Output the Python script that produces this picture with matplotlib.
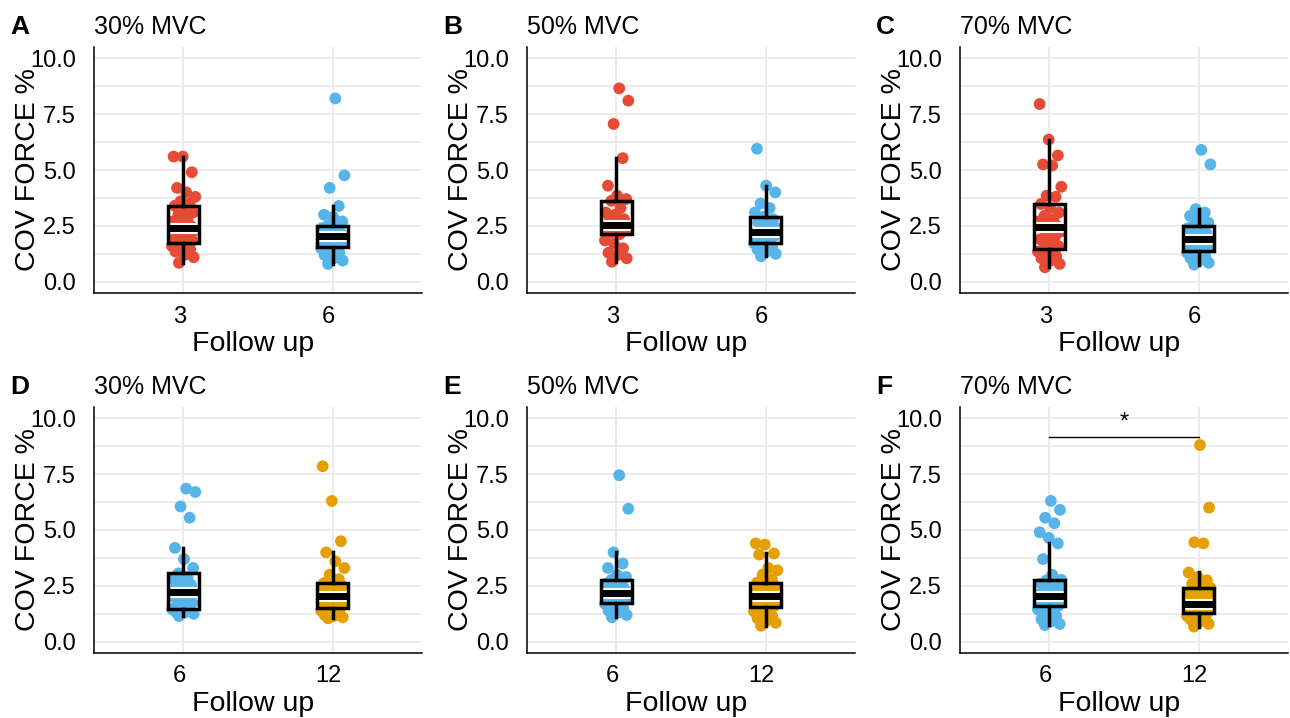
import numpy as np
import matplotlib
matplotlib.use("Agg")
import matplotlib.pyplot as plt
from matplotlib import patheffects as pe
from matplotlib.transforms import ScaledTranslation

plt.rcParams["font.family"] = ["Liberation Sans", "DejaVu Sans"]

# ---- data: coefficient of variation of force (%) per follow-up visit ----
panel_letters = ["A", "B", "C", "D", "E", "F"]
panel_titles = ["30% MVC", "50% MVC", "70% MVC", "30% MVC", "50% MVC", "70% MVC"]
cats_top = ["3", "6"]
cats_bottom = ["6", "12"]

a_m3 = [0.85, 1.1, 1.2, 1.35, 1.45, 1.55, 1.6, 1.7, 1.73, 1.85, 1.95, 2.05, 2.15, 2.25, 2.3, 2.35,
        2.4, 2.5, 2.6, 2.7, 2.85, 3.0, 3.1, 3.25, 3.4, 3.5, 3.6, 3.8, 4.0, 4.2, 4.9, 5.6, 5.6]
a_m6 = [0.8, 0.95, 1.05, 1.2, 1.3, 1.4, 1.5, 1.54, 1.65, 1.75, 1.85, 1.9, 1.95, 2.0, 2.06,
        2.1, 2.2, 2.25, 2.3, 2.4, 2.45, 2.51, 2.7, 2.9, 3.0, 3.39, 4.2, 4.76, 8.2]
b_m3 = [0.9, 1.05, 1.2, 1.3, 1.5, 1.7, 1.85, 2.13, 2.2, 2.3, 2.35, 2.4, 2.45, 2.5, 2.54,
        2.6, 2.7, 2.8, 3.0, 3.1, 3.3, 3.62, 3.7, 3.85, 4.3, 5.53, 7.06, 8.1, 8.65]
b_m6 = [1.14, 1.25, 1.35, 1.45, 1.55, 1.65, 1.73, 1.85, 1.95, 2.05, 2.15, 2.2, 2.25,
        2.3, 2.4, 2.5, 2.65, 2.8, 2.91, 3.1, 3.3, 3.5, 4.0, 4.3, 5.95]
c_m3 = [0.65, 0.8, 0.95, 1.05, 1.15, 1.25, 1.35, 1.4, 1.46, 1.6, 1.75, 1.9, 2.0, 2.15, 2.25, 2.35,
        2.43, 2.5, 2.6, 2.7, 2.8, 2.95, 3.1, 3.3, 3.48, 3.8, 3.85, 4.25, 5.2, 5.25, 5.65, 6.36, 7.95]
c_m6 = [0.77, 0.85, 0.95, 1.05, 1.15, 1.25, 1.3, 1.36, 1.45, 1.55, 1.65, 1.75, 1.8, 1.88, 1.92,
        2.0, 2.1, 2.2, 2.3, 2.4, 2.45, 2.51, 2.65, 2.8, 2.95, 3.1, 3.25, 5.25, 5.9]
d_m6 = [1.15, 1.25, 1.3, 1.35, 1.4, 1.45, 1.47, 1.48, 1.6, 1.75, 1.9, 2.0, 2.1, 2.2, 2.25,
        2.35, 2.45, 2.55, 2.7, 2.8, 2.9, 3.06, 3.3, 3.7, 4.2, 5.55, 6.05, 6.7, 6.85]
d_m12 = [1.05, 1.1, 1.15, 1.2, 1.3, 1.35, 1.4, 1.45, 1.51, 1.6, 1.7, 1.75, 1.85, 1.9, 1.95, 2.0,
         2.06, 2.1, 2.2, 2.25, 2.35, 2.4, 2.5, 2.55, 2.63, 2.8, 3.0, 3.3, 3.6, 4.0, 4.5, 6.3, 7.85]
e_m6 = [1.1, 1.2, 1.3, 1.4, 1.5, 1.6, 1.7, 1.73, 1.8, 1.9, 1.95, 2.0, 2.05, 2.1, 2.17,
        2.2, 2.3, 2.4, 2.5, 2.6, 2.7, 2.77, 2.9, 3.0, 3.3, 3.5, 4.0, 5.95, 7.45]
e_m12 = [0.72, 0.85, 0.95, 1.05, 1.15, 1.25, 1.35, 1.45, 1.54, 1.6, 1.65, 1.7, 1.8, 1.85, 1.9, 1.95,
         2.03, 2.1, 2.15, 2.2, 2.3, 2.4, 2.5, 2.55, 2.65, 2.8, 3.0, 3.2, 3.3, 3.9, 3.95, 4.35, 4.4]
f_m6 = [0.75, 0.8, 0.9, 1.0, 1.15, 1.3, 1.45, 1.55, 1.6, 1.61, 1.7, 1.75, 1.8, 1.85, 1.9, 1.95,
        2.0, 2.02, 2.03, 2.1, 2.2, 2.3, 2.4, 2.5, 2.6, 2.7, 2.75, 2.77, 3.0, 3.7, 4.4, 4.65,
        4.9, 5.3, 5.55, 5.9, 6.3]
f_m12 = [0.68, 0.8, 0.9, 1.0, 1.05, 1.1, 1.15, 1.2, 1.25, 1.3, 1.35, 1.4, 1.45, 1.5, 1.55, 1.6,
         1.62, 1.65, 1.68, 1.75, 1.8, 1.9, 2.0, 2.1, 2.2, 2.3, 2.35, 2.42, 2.5, 2.6, 2.75, 2.9,
         3.1, 4.4, 4.45, 6.0, 8.8]

panel_data = [(a_m3, a_m6), (b_m3, b_m6), (c_m3, c_m6),
              (d_m6, d_m12), (e_m6, e_m12), (f_m6, f_m12)]

# significance annotation in panel F (6 vs 12 months, 70% MVC)
sig_label = "*"
sig_height = 9.15

RED = "#E64B35"
BLUE = "#56B4E9"
ORANGE = "#E69F00"
GRID = "#EBEBEB"

W, H = 1290, 718
fig = plt.figure(figsize=(W / 100, H / 100), dpi=100)

col_left = [94, 527, 960]
ax_w = 328
row_top = [47, 407]
ax_h = 246


def jitter_offsets(n, half_width=0.08):
    # evenly spread horizontal offsets (golden-ratio sequence) so points don't overlap fully
    k = np.arange(n)
    return (np.mod(k * 0.6180339887 + 0.31, 1.0) * 2 - 1) * half_width


def shift_xlabels(ax, dx_px):
    for lab in ax.get_xticklabels():
        lab.set_transform(lab.get_transform() + ScaledTranslation(dx_px / 100, 0, fig.dpi_scale_trans))


for idx in range(6):
    r, c = divmod(idx, 3)
    left = col_left[c]
    top = row_top[r]
    ax = fig.add_axes([left / W, 1 - (top + ax_h) / H, ax_w / W, ax_h / H])
    cats = cats_top if r == 0 else cats_bottom
    colors = [RED, BLUE] if r == 0 else [BLUE, ORANGE]
    groups = panel_data[idx]
    pos = [1, 2]

    ax.set_xlim(0.4, 2.6)
    ax.set_ylim(-0.5, 10.5)
    ax.set_yticks([0, 2.5, 5.0, 7.5, 10.0])
    ax.set_yticklabels(["0.0", "2.5", "5.0", "7.5", "10.0"])
    ax.set_yticks([1.25, 3.75, 6.25, 8.75], minor=True)
    ax.grid(True, which="both", axis="y", color=GRID, lw=1.3, zorder=0)
    ax.set_axisbelow(True)
    ax.tick_params(which="both", length=0)
    ax.tick_params(axis="y", labelsize=17, pad=13, colors="black")
    ax.tick_params(axis="x", labelsize=17, pad=9, colors="black")
    for s in ["top", "right"]:
        ax.spines[s].set_visible(False)
    for s in ["left", "bottom"]:
        ax.spines[s].set_linewidth(1.1)
        ax.spines[s].set_color("black")

    # white box body underneath the points
    ax.boxplot(groups, positions=pos, widths=0.21, showfliers=False, patch_artist=True,
               boxprops=dict(facecolor="white", edgecolor="none", linewidth=0),
               whiskerprops=dict(linewidth=0, color="none"),
               capprops=dict(linewidth=0, color="none"),
               medianprops=dict(linewidth=0, color="none"), zorder=1)

    for p, vals, col in zip(pos, groups, colors):
        vals = np.asarray(vals)
        ax.scatter(p + jitter_offsets(len(vals)), vals, s=72, color=col,
                   edgecolors="none", zorder=2, clip_on=False)

    # box outline, whiskers and median on top of the points
    bp = ax.boxplot(groups, positions=pos, widths=0.21, showfliers=False, patch_artist=True,
                    boxprops=dict(facecolor="none", edgecolor="black", linewidth=2.5),
                    whiskerprops=dict(linewidth=2.5, color="black"),
                    capprops=dict(linewidth=0, color="none"),
                    medianprops=dict(linewidth=5.0, color="black", solid_capstyle="butt"),
                    zorder=3)
    for med in bp["medians"]:
        med.set_path_effects([pe.Stroke(linewidth=8.0, foreground="white"), pe.Normal()])
        med.set_zorder(3.5)
    for b in bp["boxes"]:
        b.set_zorder(3.6)

    ax.set_xticks(pos)
    ax.set_xticklabels(cats)
    ax.set_xticks([], minor=True)
    ax.xaxis.grid(True, which="major", color=GRID, lw=1.3, zorder=0)
    shift_xlabels(ax, -4)

    if idx == 5:
        ax.plot(pos, [sig_height, sig_height], color="black", lw=1.0, zorder=4)
        ax.text(1.5, sig_height + 0.15, sig_label, ha="center", va="bottom", fontsize=17, zorder=4)

    # panel letter and title
    base_y = 1 - 34 / H - r * 360 / H
    fig.text((left - 84) / W, base_y, panel_letters[idx], fontsize=19,
             fontweight="bold", ha="left", va="baseline")
    fig.text(left / W, base_y, panel_titles[idx], fontsize=18,
             ha="left", va="baseline")
    # axis titles
    fig.text((left - 66) / W, 1 - (top + ax_h / 2) / H, "COV FORCE %", fontsize=20.5,
             rotation=90, ha="center", va="center")
    fig.text((left + ax_w / 2 - 5) / W, 1 - (top + 297) / H, "Follow up", fontsize=20.5,
             ha="center", va="center")

fig.savefig("out.png", dpi=100, facecolor="white")
